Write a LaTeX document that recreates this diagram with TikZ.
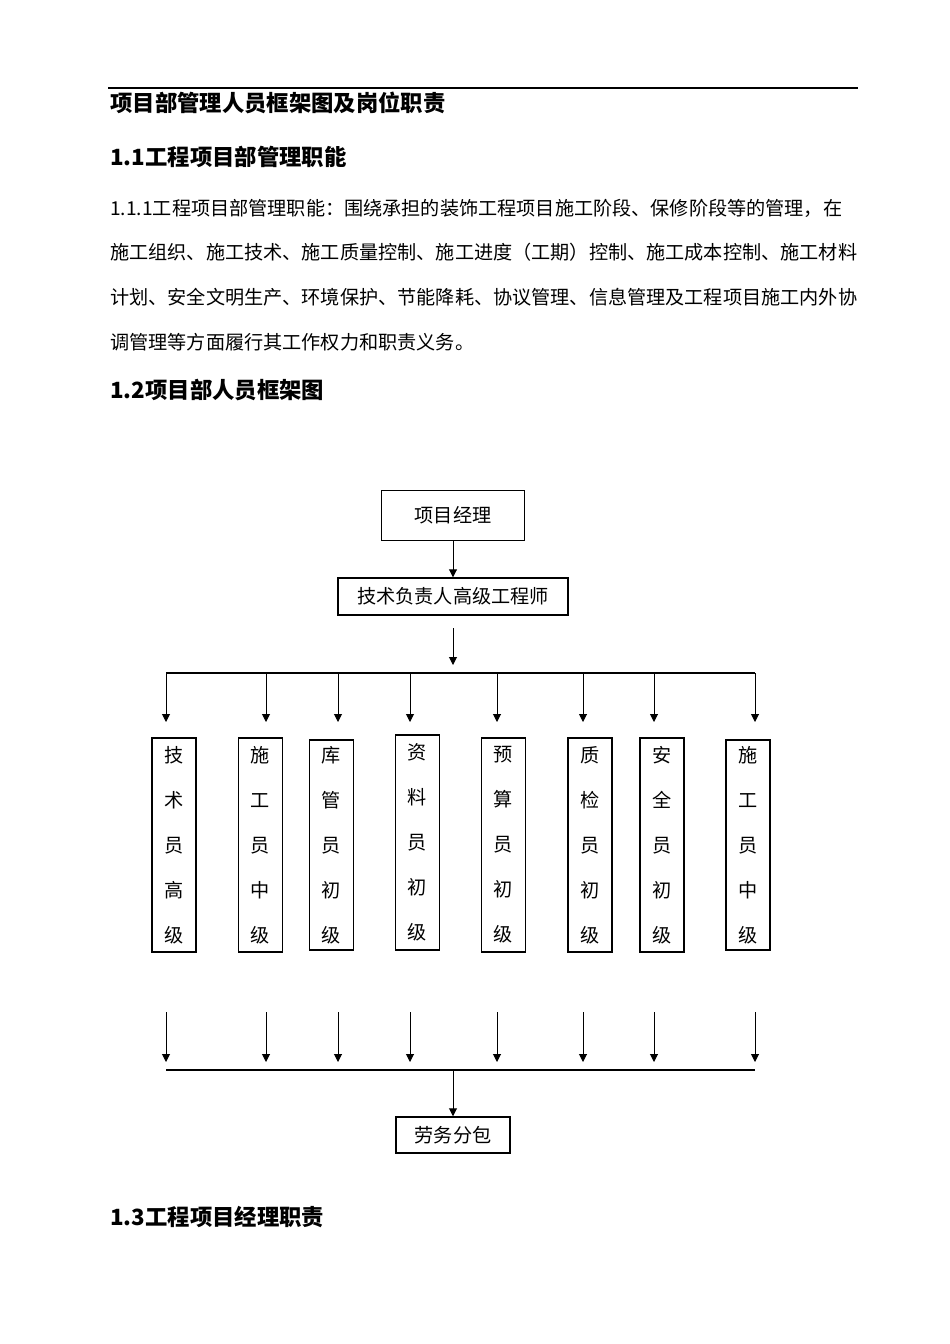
\documentclass[tikz,border=0pt]{standalone}
\usepackage{fontspec}
\setmainfont{Noto Sans CJK SC}
\usetikzlibrary{arrows.meta, positioning}
\tikzset{
    textline/.style={anchor=west, inner sep=0pt, font=\fontsize{12}{14}\selectfont},
    heading/.style={anchor=west, inner sep=0pt, font=\fontsize{14}{16}\selectfont\bfseries},
    box/.style={
        rectangle, draw=black, line width=0.9pt, inner sep=0pt,
        text centered, font=\fontsize{12}{14}\selectfont
    },
    postbox/.style={
        box, minimum width=27.6pt, align=center,
        font=\fontsize{12}{28.2}\selectfont
    },
    arrow/.style={-{Triangle[length=5pt, width=5pt]}, line width=0.6pt},
    bus/.style={line width=0.7pt}
}

\begin{document}
\begin{tikzpicture}[x=0.6266pt, y=-0.6266pt]
    \useasboundingbox (0,0) rectangle (950,1344);

    % Page text
    \draw[line width=0.8pt] (108,88) -- (858,88);
    \node[heading] (title) at (110,103) {项目部管理人员框架图及岗位职责};
    \node[heading] (sec11) at (110,157) {1.1工程项目部管理职能};
    \node[textline] (par1) at (110,208) {1.1.1工程项目部管理职能：围绕承担的装饰工程项目施工阶段、保修阶段等的管理，在};
    \node[textline] (par2) at (110,252) {施工组织、施工技术、施工质量控制、施工进度（工期）控制、施工成本控制、施工材料};
    \node[textline] (par3) at (110,297) {计划、安全文明生产、环境保护、节能降耗、协议管理、信息管理及工程项目施工内外协};
    \node[textline] (par4) at (110,342) {调管理等方面履行其工作权力和职责义务。};
    \node[heading] (sec12) at (110,390) {1.2项目部人员框架图};
    \node[heading] (sec13) at (110,1217) {1.3工程项目经理职责};

    % Top of the chart
    \node[box, minimum width=89.6pt, minimum height=31.3pt] (manager) at (453,515.5) {项目经理};
    \node[box, minimum width=144.1pt, minimum height=23.2pt] (techlead) at (453,596.5) {技术负责人高级工程师};
    \draw[arrow] (manager) -- (techlead);

    \coordinate (techout) at (453,628);
    \coordinate (split) at (453,665);
    \draw[arrow] (techout) -- (split);
    \draw[bus] (166,673) -- (755,673);

    % Posts
    \foreach \i/\ax/\cx/\cy/\h/\txt in {
        1/166/174/845/214/{技\\术\\员\\高\\级},
        2/266/260.5/845/214/{施\\工\\员\\中\\级},
        3/338/331.5/845/210/{库\\管\\员\\初\\级},
        4/410/417.5/842.5/215/{资\\料\\员\\初\\级},
        5/497/503.5/845/214/{预\\算\\员\\初\\级},
        6/583/590/845/214/{质\\检\\员\\初\\级},
        7/654/662/845/214/{安\\全\\员\\初\\级},
        8/755/748/845/210/{施\\工\\员\\中\\级}} {
        \coordinate (drop\i) at (\ax,673);
        \coordinate (in\i) at (\ax,722);
        \draw[arrow] (drop\i) -- (in\i);
        \node[postbox, minimum height=\h*0.6266pt] (post\i) at (\cx,\cy) {\txt};
        \coordinate (out\i) at (\ax,1012);
        \coordinate (down\i) at (\ax,1062);
        \draw[arrow] (out\i) -- (down\i);
    }

    % Bottom of the chart
    \draw[bus] (166,1070) -- (755,1070);
    \node[box, minimum width=71.4pt, minimum height=22.6pt] (labour) at (453,1135) {劳务分包};
    \coordinate (merge) at (453,1070);
    \draw[arrow] (merge) -- (labour.north);
\end{tikzpicture}
\end{document}
